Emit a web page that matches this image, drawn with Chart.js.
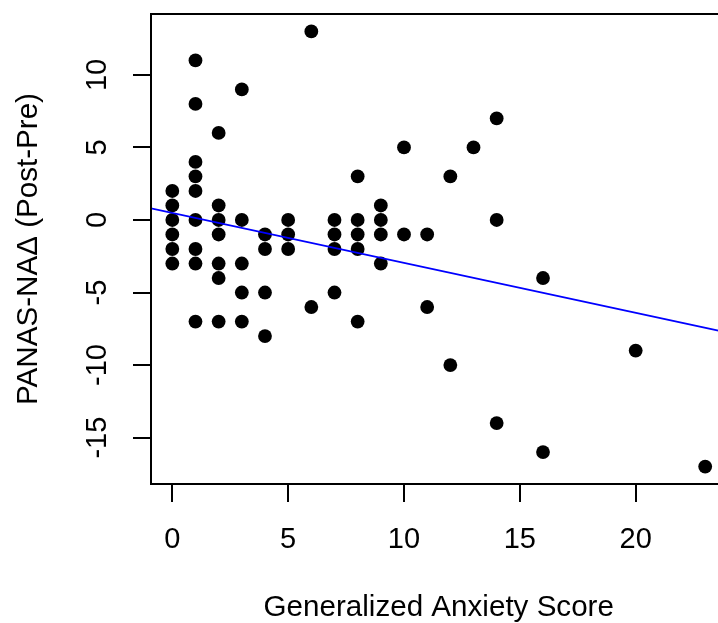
<!DOCTYPE html>
<html>
<head>
<meta charset="utf-8">
<script src="https://cdn.jsdelivr.net/npm/chart.js@4"></script>
<style>
  html, body { margin: 0; padding: 0; background: #fff; overflow: hidden; }
  canvas { display: block; }
</style>
</head>
<body>
<canvas id="anxietyChart" width="740" height="623"></canvas>
<script>
// Generalized Anxiety Score vs PANAS-NA change (Post-Pre)
const anxietyScore = [0, 0, 0, 0, 0, 0,
    1, 1, 1, 1, 1, 1, 1, 1, 1,
    2, 2, 2, 2, 2, 2, 2,
    3, 3, 3, 3, 3,
    4, 4, 4, 4,
    5, 5, 5,
    6, 6,
    7, 7, 7, 7,
    8, 8, 8, 8, 8,
    9, 9, 9, 9,
    10, 10, 11, 11, 12, 12, 13,
    14, 14, 14, 16, 16, 20, 23];
const panasChange = [2, 1, 0, -1, -2, -3,
    11, 8, 4, 3, 2, 0, -2, -3, -7,
    6, 1, 0, -1, -3, -4, -7,
    9, 0, -3, -5, -7,
    -1, -2, -5, -8,
    0, -1, -2,
    13, -6,
    0, -1, -2, -5,
    3, 0, -1, -2, -7,
    1, 0, -1, -3,
    5, -1, -1, -6, 3, -10, 5,
    7, 0, -14, -4, -16, -9, -17];

const xTicks = [0, 5, 10, 15, 20];
const yTicks = [-15, -10, -5, 0, 5, 10];
const xRange = [-0.92, 23.92];
const yRange = [-18.2, 14.2];

// fitted regression line
const fitIntercept = 0.48;
const fitSlope = -0.344;

const FONT = '"Liberation Sans", Arial, sans-serif';
Chart.defaults.font.family = FONT;
Chart.defaults.color = '#000';

const points = anxietyScore.map((x, i) => ({ x: x, y: panasChange[i] }));
const fitLine = xRange.map(x => ({ x: x, y: fitIntercept + fitSlope * x }));

// rotated y tick labels and the box around the plot
const framePlugin = {
    id: 'frame',
    afterDraw(chart) {
        const ctx = chart.ctx;
        const yScale = chart.scales.y;
        const a = chart.chartArea;
        ctx.save();
        ctx.fillStyle = '#000';
        ctx.font = '29px ' + FONT;
        ctx.textAlign = 'center';
        ctx.textBaseline = 'middle';
        yScale.ticks.forEach(t => {
            ctx.save();
            ctx.translate(98, yScale.getPixelForValue(t.value));
            ctx.rotate(-Math.PI / 2);
            ctx.fillText(String(t.value), 0, 0);
            ctx.restore();
        });
        ctx.strokeStyle = '#000';
        ctx.lineWidth = 2;
        ctx.strokeRect(a.left, a.top, a.right - a.left, a.bottom - a.top);
        ctx.restore();
    }
};

const tickGrid = { drawOnChartArea: false, drawTicks: true, tickLength: 18, color: '#000', lineWidth: 2 };

const config = {
    type: 'scatter',
    data: {
        datasets: [{
            type: 'line',
            data: fitLine,
            borderColor: '#0000ff',
            borderWidth: 1.8,
            pointRadius: 0,
            fill: false
        }, {
            data: points,
            pointRadius: 6.9,
            pointBackgroundColor: '#000',
            pointBorderColor: '#000',
            pointBorderWidth: 0
        }]
    },
    options: {
        responsive: false,
        animation: false,
        layout: { padding: { top: 14, right: 13.5, bottom: 0, left: 0 } },
        plugins: { legend: { display: false }, tooltip: { enabled: false } },
        scales: {
            x: {
                type: 'linear',
                min: xRange[0],
                max: xRange[1],
                afterBuildTicks: s => { s.ticks = xTicks.map(v => ({ value: v })); },
                afterFit: s => { s.height = 139; },
                grid: tickGrid,
                border: { display: false },
                ticks: { color: '#000', font: { size: 29, lineHeight: 1 }, padding: 23, maxRotation: 0, autoSkip: false },
                title: { display: true, text: 'Generalized Anxiety Score', color: '#000', font: { size: 29.6, lineHeight: 1 }, padding: 0 }
            },
            y: {
                type: 'linear',
                min: yRange[0],
                max: yRange[1],
                afterBuildTicks: s => { s.ticks = yTicks.map(v => ({ value: v })); },
                afterFit: s => { s.width = 151; },
                grid: tickGrid,
                border: { display: false },
                ticks: { display: false },
                title: { display: true, text: 'PANAS-NAΔ (Post-Pre)', color: '#000', font: { size: 29.6, lineHeight: 1 }, padding: { top: 14, bottom: 0 } }
            }
        }
    },
    plugins: [framePlugin]
};

new Chart(document.getElementById('anxietyChart').getContext('2d'), config);
</script>
</body>
</html>
